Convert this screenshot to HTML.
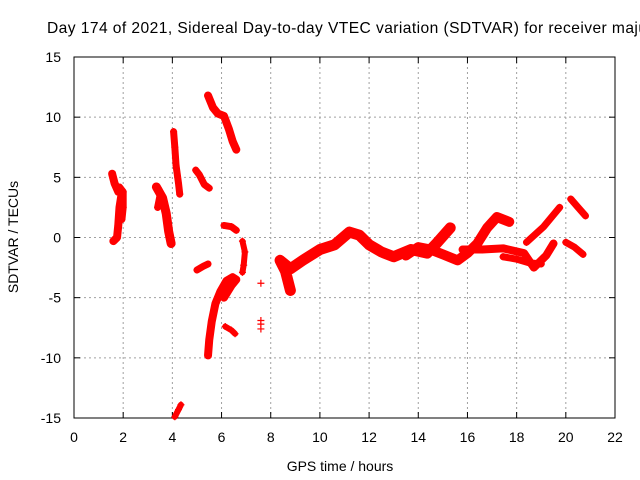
<!DOCTYPE html>
<html><head><meta charset="utf-8"><style>
body{margin:0;background:#fff;overflow:hidden;}
svg{display:block;font-family:"Liberation Sans",sans-serif;}
</style></head><body>
<svg id="c" width="640" height="480">
<text x="47" y="33" font-size="15.6" textLength="600" lengthAdjust="spacing" fill="#000">Day 174 of 2021, Sidereal Day-to-day VTEC variation (SDTVAR) for receiver maju</text>
<g id="grid"></g><g id="axes"></g><g id="marks"></g>
<text x="340" y="471" font-size="14" text-anchor="middle">GPS time / hours</text>
<text transform="translate(18,237) rotate(-90)" font-size="14" text-anchor="middle">SDTVAR / TECUs</text>
</svg>
<script>
const xTicks=[0,2,4,6,8,10,12,14,16,18,20,22];
const yTicks=[-15,-10,-5,0,5,10,15];
const tracks=[
[[1.55,5.3],[1.65,4.5],[1.8,3.8],[1.95,3.8],[1.85,2.5],[1.8,1],[1.75,0],[1.6,-0.3]],
[[1.85,4.2],[2.0,3.8],[2.0,2.5],[1.95,1.5]],
[[3.35,4.2],[3.6,3.3],[3.75,2],[3.85,0.5],[3.95,-0.5]],
[[3.4,2.5],[3.5,3.5],[3.45,4.0]],
[[4.05,8.8],[4.1,7.5],[4.15,6],[4.25,4.5],[4.3,3.6]],
[[5.45,11.8],[5.65,10.8],[5.85,10.3],[6.1,10.1],[6.3,9],[6.45,8],[6.6,7.3]],
[[4.95,5.6],[5.1,5.2],[5.3,4.4],[5.5,4.1]],
[[6.1,1.0],[6.4,0.9],[6.6,0.6]],
[[6.85,-0.3],[6.95,-1.2],[6.9,-2.3],[6.85,-2.9]],
[[5.0,-2.7],[5.25,-2.4],[5.45,-2.2]],
[[5.45,-9.8],[5.5,-8.5],[5.6,-7],[5.75,-5.5],[5.95,-4.5],[6.2,-3.6],[6.45,-3.3],[6.6,-3.5],[6.4,-4.0],[6.1,-5]],
[[6.15,-7.4],[6.4,-7.7],[6.55,-8.0]],
[[4.1,-14.9],[4.25,-14.3],[4.35,-13.9]],
[[8.8,-4.4],[8.6,-2.8],[8.38,-1.9],[8.8,-2.6],[9.3,-1.9],[10.0,-1.0],[10.6,-0.6],[11.2,0.45],[11.6,0.2],[12.0,-0.6],[12.5,-1.2],[13.0,-1.6],[13.7,-1.0],[14.36,-1.3],[14.76,-0.45],[15.3,0.8]],
[[13.5,-1.5],[14.0,-0.8],[14.5,-1.0],[15.0,-1.4],[15.6,-1.9],[16.0,-1.3],[16.4,-0.5],[16.8,0.8],[17.2,1.7],[17.7,1.3]],
[[15.8,-1.0],[16.6,-1.0],[17.45,-0.9],[18.3,-1.3],[18.7,-2.5],[19.2,-1.5],[19.5,-0.5]],
[[17.45,-1.6],[18.0,-1.8],[18.5,-2.1],[19.0,-2.2]],
[[18.4,-0.4],[19.1,0.9],[19.75,2.5]],
[[20.2,3.2],[20.5,2.5],[20.8,1.8]],
[[20.0,-0.4],[20.35,-0.8],[20.7,-1.4]]
];
const widths=[8,7,9,7,7,8,7,7,6,7,8,6,6,11,10,8,7,7,7,7];
const singles=[[7.6,-3.8],[7.6,-6.9],[7.6,-7.2],[7.6,-7.6]];
const X0=74,X1=615,Y0=418,Y1=57;
const sx=v=>X0+(v-0)/22*(X1-X0);
const sy=v=>Y0-(v+15)/30*(Y0-Y1);
const NS='http://www.w3.org/2000/svg';
function mk(t,a,p){const e=document.createElementNS(NS,t);for(const k in a)e.setAttribute(k,a[k]);p.appendChild(e);return e;}
const grid=document.getElementById('grid'),axes=document.getElementById('axes'),marks=document.getElementById('marks');
xTicks.forEach(t=>{const x=sx(t);
 if(t>0&&t<22){const l=mk('line',{x1:x,x2:x,y1:Y1,y2:Y0,stroke:'#a0a0a0','stroke-dasharray':'2,3'},grid);
 
 }
 mk('line',{x1:x,x2:x,y1:Y0,y2:Y0-6,stroke:'#000'},axes);
 mk('line',{x1:x,x2:x,y1:Y1,y2:Y1+6,stroke:'#000'},axes);
 const tx=mk('text',{x:x,y:442,'font-size':14,'text-anchor':'middle'},axes);tx.textContent=t;
 
 
});
yTicks.forEach(t=>{const y=sy(t);
 if(t>-15&&t<15){const l=mk('line',{x1:X0,x2:X1,y1:y,y2:y,stroke:'#a0a0a0','stroke-dasharray':'2,3'},grid);
 
 }
 mk('line',{x1:X0,x2:X0+6,y1:y,y2:y,stroke:'#000'},axes);
 mk('line',{x1:X1,x2:X1-6,y1:y,y2:y,stroke:'#000'},axes);
 const tx=mk('text',{x:61,y:y+5,'font-size':14,'text-anchor':'end'},axes);tx.textContent=t;
 
 
});
const box=mk('rect',{x:X0,y:Y1,width:X1-X0,height:Y0-Y1,fill:'none',stroke:'#000'},axes);


function plus(h,v,g){const x=sx(h),y=sy(v);
 mk('path',{d:`M${x-3.5},${y}H${x+3.5}M${x},${y-3.5}V${y+3.5}`,stroke:'#f00','stroke-width':1.2},g);}
tracks.forEach((tr,i)=>{
 const g=mk('g',{},marks);
 
 
 mk('polyline',{points:tr.map(p=>sx(p[0])+','+sy(p[1])).join(' '),fill:'none',stroke:'#f00','stroke-width':widths[i],'stroke-linejoin':'round','stroke-linecap':'round'},g);
 tr.forEach(p=>plus(p[0],p[1],g));
});
singles.forEach(p=>{const g=mk('g',{},marks);
 
 
 plus(p[0],p[1],g);});
</script>
</body></html>
